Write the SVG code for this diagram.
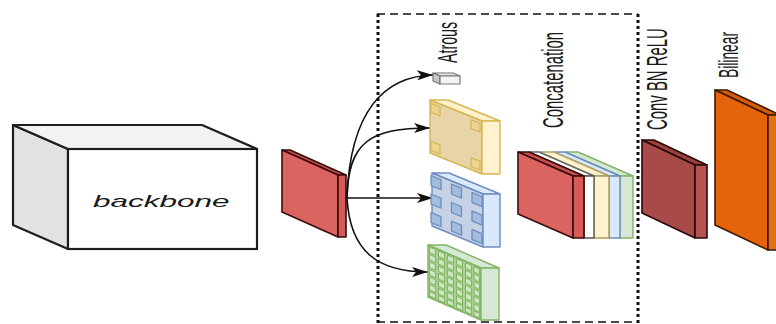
<svg xmlns="http://www.w3.org/2000/svg" width="776" height="324" viewBox="0 0 776 324">
<defs>
<style>
.lbl{font-family:"Liberation Sans",Arial,sans-serif;fill:#1a1a1a}
.red{stroke:#3a0b0b;stroke-width:1.6;stroke-linejoin:round}
.conn{fill:none;stroke:#111;stroke-width:1.6}
.ysq{fill:#ecd48e;stroke:#d6b656;stroke-width:1.2}
.bsq{fill:#a3bbdd;stroke:#6c8ebf;stroke-width:1.3}
.gsq{fill:#cfe6c2;stroke:#82b366;stroke-width:1}
</style>
<marker id="ah" viewBox="0 0 16 10" refX="16" refY="5" markerWidth="16" markerHeight="10" orient="auto" markerUnits="userSpaceOnUse">
<path d="M0,0 L16,5 L0,10 L4,5 Z" fill="#111"/>
</marker>
</defs>
<rect width="776" height="324" fill="#ffffff"/>

<g id="aspp-frame" fill="none" stroke="#111">
<line x1="377" y1="14" x2="638" y2="14" stroke-width="1.6" stroke-dasharray="8 5"/>
<line x1="377" y1="322" x2="638" y2="322" stroke-width="1.6" stroke-dasharray="8 5"/>
<line x1="378" y1="14" x2="378" y2="324" stroke-width="3" stroke-dasharray="3 3"/>
<line x1="638" y1="14" x2="638" y2="324" stroke-width="3" stroke-dasharray="3 3"/>
</g>

<g id="backbone">
<polygon points="13,125 68,149 68,249 13,225" fill="#e2e2e2" stroke="#1e1e1e" stroke-width="2.2" stroke-linejoin="round"/>
<polygon points="13,125 202,125 257,149 68,149" fill="#f2f2f2" stroke="#1e1e1e" stroke-width="2.2" stroke-linejoin="round"/>
<rect x="68" y="149" width="189" height="100" fill="#ffffff" stroke="#1e1e1e" stroke-width="2.2"/>
<text class="lbl" transform="translate(93,207) scale(1.97,1)" font-size="16" font-style="italic">backbone</text>
</g>

<g id="feature">
<polygon class="red" points="282,150 290,150 346,175 338,175" fill="#c95050"/>
<polygon class="red" points="282,150 338,175 338,237 282,212" fill="#db6461"/>
<polygon class="red" points="338,175 346,175 346,237 338,237" fill="#d65a58"/>
</g>

<g id="connectors">
<path class="conn" d="M347,198 C350,110 385,76 433,75" marker-end="url(#ah)"/>
<path class="conn" d="M347,198 C348,142 370,128 430,128" marker-end="url(#ah)"/>
<path class="conn" d="M347,198 L433,198" marker-end="url(#ah)"/>
<path class="conn" d="M347,198 C350,252 378,272 428,272" marker-end="url(#ah)"/>
</g>

<g id="atrous-1x1" stroke="#777" stroke-width="1.2" stroke-linejoin="round">
<polygon points="433,73 453,73 460,76 440,76" fill="#e6e6e6"/>
<polygon points="433,73 440,76 440,84 433,81" fill="#c8c8c8"/>
<polygon points="440,76 460,76 460,84 440,84" fill="#f4f4f4"/>
<text class="lbl" transform="translate(457,63) rotate(-90) scale(1,2)" font-size="14.2" stroke="none">Atrous</text>
</g>

<g id="atrous-yellow" stroke-linejoin="round">
<polygon points="430,100 448,100 500,121 482,121" fill="#fff2cc" stroke="#d6b656" stroke-width="1.4"/>
<polygon points="430,100 482,121 482,174 430,153" fill="#e8d4a6" stroke="#d6b656" stroke-width="1.4"/>
<polygon points="482,121 500,121 500,174 482,174" fill="#fff2cc" stroke="#d6b656" stroke-width="1.4"/>
<g transform="translate(430,100) skewY(22)">
<rect class="ysq" x="1" y="3" width="9" height="9"/>
<rect class="ysq" x="41" y="3" width="9" height="9"/>
<rect class="ysq" x="1" y="41" width="9" height="9"/>
<rect class="ysq" x="41" y="41" width="9" height="9"/>
</g>
</g>

<g id="atrous-blue" stroke-linejoin="round">
<polygon points="432,173 449,173 500,194 483,194" fill="#dae8fc" stroke="#6c8ebf" stroke-width="1.4"/>
<polygon points="432,173 483,194 483,247 432,226" fill="#c5d1e4" stroke="#6c8ebf" stroke-width="1.4"/>
<polygon points="483,194 500,194 500,247 483,247" fill="#dae8fc" stroke="#6c8ebf" stroke-width="1.4"/>
<g transform="translate(432,173) skewY(22.4)">
<rect class="bsq" x="-1" y="3" width="10" height="10"/>
<rect class="bsq" x="19.5" y="3" width="10" height="10"/>
<rect class="bsq" x="40" y="3" width="10" height="10"/>
<rect class="bsq" x="-1" y="21.5" width="10" height="10"/>
<rect class="bsq" x="19.5" y="21.5" width="10" height="10"/>
<rect class="bsq" x="40" y="21.5" width="10" height="10"/>
<rect class="bsq" x="-1" y="40" width="10" height="10"/>
<rect class="bsq" x="19.5" y="40" width="10" height="10"/>
<rect class="bsq" x="40" y="40" width="10" height="10"/>
</g>
</g>

<g id="atrous-green" stroke-linejoin="round">
<polygon points="428,245 446,245 499,268 481,268" fill="#d5e8d4" stroke="#82b366" stroke-width="1.4"/>
<polygon points="428,245 481,268 481,320 428,297" fill="#a9d18e" stroke="#82b366" stroke-width="1.4"/>
<polygon points="481,268 499,268 499,320 481,320" fill="#d5e8d4" stroke="#82b366" stroke-width="1.4"/>
<g transform="translate(428,245) skewY(23.5)">
<rect class="gsq" x="1.5" y="1.5" width="6" height="5.5"/><rect class="gsq" x="10.5" y="1.5" width="6" height="5.5"/><rect class="gsq" x="19.5" y="1.5" width="6" height="5.5"/><rect class="gsq" x="28.5" y="1.5" width="6" height="5.5"/><rect class="gsq" x="37.5" y="1.5" width="6" height="5.5"/><rect class="gsq" x="46" y="1.5" width="5.5" height="5.5"/>
<rect class="gsq" x="1.5" y="9" width="6" height="5.5"/><rect class="gsq" x="10.5" y="9" width="6" height="5.5"/><rect class="gsq" x="19.5" y="9" width="6" height="5.5"/><rect class="gsq" x="28.5" y="9" width="6" height="5.5"/><rect class="gsq" x="37.5" y="9" width="6" height="5.5"/><rect class="gsq" x="46" y="9" width="5.5" height="5.5"/>
<rect class="gsq" x="1.5" y="16.5" width="6" height="5.5"/><rect class="gsq" x="10.5" y="16.5" width="6" height="5.5"/><rect class="gsq" x="19.5" y="16.5" width="6" height="5.5"/><rect class="gsq" x="28.5" y="16.5" width="6" height="5.5"/><rect class="gsq" x="37.5" y="16.5" width="6" height="5.5"/><rect class="gsq" x="46" y="16.5" width="5.5" height="5.5"/>
<rect class="gsq" x="1.5" y="24" width="6" height="5.5"/><rect class="gsq" x="10.5" y="24" width="6" height="5.5"/><rect class="gsq" x="19.5" y="24" width="6" height="5.5"/><rect class="gsq" x="28.5" y="24" width="6" height="5.5"/><rect class="gsq" x="37.5" y="24" width="6" height="5.5"/><rect class="gsq" x="46" y="24" width="5.5" height="5.5"/>
<rect class="gsq" x="1.5" y="31.5" width="6" height="5.5"/><rect class="gsq" x="10.5" y="31.5" width="6" height="5.5"/><rect class="gsq" x="19.5" y="31.5" width="6" height="5.5"/><rect class="gsq" x="28.5" y="31.5" width="6" height="5.5"/><rect class="gsq" x="37.5" y="31.5" width="6" height="5.5"/><rect class="gsq" x="46" y="31.5" width="5.5" height="5.5"/>
<rect class="gsq" x="1.5" y="39" width="6" height="5.5"/><rect class="gsq" x="10.5" y="39" width="6" height="5.5"/><rect class="gsq" x="19.5" y="39" width="6" height="5.5"/><rect class="gsq" x="28.5" y="39" width="6" height="5.5"/><rect class="gsq" x="37.5" y="39" width="6" height="5.5"/><rect class="gsq" x="46" y="39" width="5.5" height="5.5"/>
<rect class="gsq" x="1.5" y="46" width="6" height="4.5"/><rect class="gsq" x="10.5" y="46" width="6" height="4.5"/><rect class="gsq" x="19.5" y="46" width="6" height="4.5"/><rect class="gsq" x="28.5" y="46" width="6" height="4.5"/><rect class="gsq" x="37.5" y="46" width="6" height="4.5"/><rect class="gsq" x="46" y="46" width="5.5" height="4.5"/>
</g>
</g>

<g id="concatenation" stroke-linejoin="round" stroke-width="1.4">
<polygon points="565,152 578,152 633,176 620,176" fill="#d5e8d4" stroke="#82b366"/>
<rect x="620" y="176" width="13" height="62" fill="#d5e8d4" stroke="#82b366"/>
<polygon points="554,152 565,152 620,176 609,176" fill="#dae8fc" stroke="#6c8ebf"/>
<rect x="609" y="176" width="11" height="62" fill="#dae8fc" stroke="#6c8ebf"/>
<polygon points="539,152 554,152 609,176 594,176" fill="#fff2cc" stroke="#b3a466"/>
<rect x="594" y="176" width="15" height="62" fill="#fff2cc" stroke="#a89a5a"/>
<polygon points="529,152 539,152 594,176 584,176" fill="#ffffff" stroke="#666"/>
<rect x="584" y="176" width="10" height="62" fill="#ffffff" stroke="#555"/>
<polygon class="red" points="518,152 529,152 584,176 573,176" fill="#c95050" stroke-width="1.8"/>
<polygon class="red" points="518,152 573,176 573,238 518,214" fill="#db6461" stroke-width="1.8"/>
<polygon class="red" points="573,176 584,176 584,238 573,238" fill="#d65a58" stroke-width="1.8"/>
<text class="lbl" transform="translate(563,128) rotate(-90) scale(1,2)" font-size="14.9" stroke="none">Concatenation</text>
</g>

<g id="conv-bn-relu" stroke="#2b0707" stroke-width="1.6" stroke-linejoin="round">
<polygon points="642,140 654,140 707,165 695,165" fill="#9a4040"/>
<polygon points="642,140 695,165 695,238 642,213" fill="#a84a4a"/>
<polygon points="695,165 707,165 707,238 695,238" fill="#b55252"/>
<text class="lbl" transform="translate(667,130) rotate(-90) scale(1,2)" font-size="14.9" stroke="none">Conv BN ReLU</text>
</g>

<g id="bilinear" stroke="#3a1a00" stroke-width="1.6" stroke-linejoin="round">
<polygon points="715,90 727,90 780,115 768,115" fill="#d95a05"/>
<polygon points="715,90 768,115 768,250 715,225" fill="#e5630b"/>
<polygon points="768,115 780,115 780,250 768,250" fill="#e86e16"/>
<text class="lbl" transform="translate(738,78) rotate(-90) scale(1,2)" font-size="13.8" stroke="none">Bilinear</text>
</g>
</svg>
